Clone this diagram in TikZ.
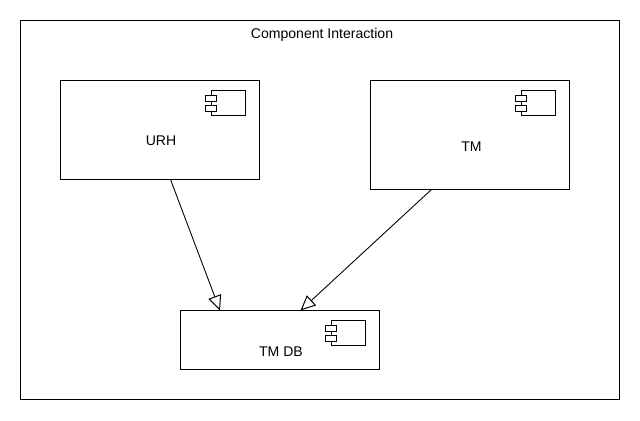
\documentclass[tikz,border=0pt]{standalone}
\usepackage{fontspec}
\setmainfont{Liberation Sans}
\usetikzlibrary{arrows.meta,calc}
\tikzset{
	box/.style={draw=black,fill=white,line width=0.57pt,outer sep=0pt,inner sep=0pt,minimum width=3.98cm},
	lbl/.style={inner sep=0pt,font=\fontsize{8}{9.5}\selectfont},
	link/.style={draw=black,line width=0.5pt,-{Triangle[open,length=0.3cm,width=0.27cm,line width=0.57pt]}},
	compicon/.pic={
		\draw [black,line width=0.5pt] (-48,10) rectangle (-14,35);
		\draw [black,fill=white,line width=0.5pt] (-54,15) rectangle (-43,21);
		\draw [black,fill=white,line width=0.5pt] (-54,25) rectangle (-43,31);
	}
}
\begin{document}
\begin{tikzpicture}[x=0.02cm,y=-0.02cm]
	\useasboundingbox (-0.5,-0.5) rectangle (639.5,419.5);
	\node [box,minimum width=11.98cm,minimum height=7.58cm] (frame) at (319.5,209.5) {};
	\node [lbl] (title) at (321.5,34) {Component Interaction};

	\node [box,minimum height=1.98cm] (urh) at (159.5,129.5) {};
	\node [box,minimum height=2.18cm] (tm) at (469.5,134.5) {};
	\node [box,minimum height=1.18cm] (tmdb) at (279.5,339.5) {};

	\pic at (urh.north east) {compicon};
	\pic at (tm.north east) {compicon};
	\pic at (tmdb.north east) {compicon};

	\node [lbl] (urhtext) at (160.5,140) {URH};
	\node [lbl] (tmtext) at (471,146) {TM};
	\node [lbl] (tmdbtext) at (280.5,351) {TM DB};

	\coordinate (urhout) at ($(urh.south)+(10.5,0)$);
	\coordinate (tmout) at ($(tm.south)+(-38.5,0)$);
	\coordinate (dbinl) at ($(tmdb.north)+(-60,0)$);
	\coordinate (dbinr) at ($(tmdb.north)+(20.5,0)$);
	\draw [link] (urhout) -- (dbinl);
	\draw [link] (tmout) -- (dbinr);
\end{tikzpicture}
\end{document}
